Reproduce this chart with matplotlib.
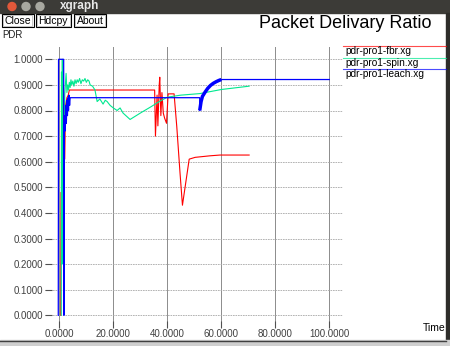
import matplotlib
matplotlib.use("Agg")
import matplotlib.pyplot as plt
from matplotlib.patches import Rectangle, Circle

plt.rcParams['font.family'] = ['Liberation Sans', 'DejaVu Sans']

# data
fbr_t = [0.5, 0.6, 1.2, 1.5, 2.0, 2.3, 2.8, 3.3, 3.7, 35.3, 35.6, 36.2, 36.5, 37.0, 37.2,
         37.6, 38.0, 38.5, 39.0, 39.7, 40.3, 42.5, 43.5, 44.7, 45.6, 48.1, 50.3, 55.8, 59.5, 70.3]
fbr_v = [0.0, 0.48, 0.46, 0.90, 0.61, 0.82, 0.85, 0.86, 0.88, 0.88, 0.70, 0.86, 0.74, 0.90, 0.93,
         0.78, 0.87, 0.79, 0.77, 0.75, 0.865, 0.865, 0.737, 0.556, 0.43, 0.61, 0.617, 0.623, 0.626, 0.626]

spin_t = [0.7, 0.8, 1.0, 1.1, 1.3, 1.6, 2.0, 2.5, 2.8, 3.1, 3.4, 3.7, 4.0, 4.3, 4.6, 5.0,
          5.4, 5.8, 6.2, 6.6, 7.0, 7.5, 8.0, 8.5, 9.0, 9.5, 10.0, 10.5, 11.0, 11.4,
          12.3, 13.2, 14.0, 15.0, 16.2, 17.0, 17.7, 18.8, 20.0, 21.4, 22.5, 23.6, 26.2,
          30.0, 34.0, 37.0, 40.0, 45.0, 52.0, 60.0, 70.3]
spin_v = [0.0, 0.95, 0.20, 1.0, 0.36, 0.18, 0.86, 0.945, 0.87, 0.90, 0.88, 0.91, 0.89, 0.92, 0.90, 0.915,
          0.895, 0.92, 0.905, 0.92, 0.91, 0.925, 0.905, 0.92, 0.915, 0.925, 0.91, 0.92, 0.915, 0.90,
          0.895, 0.88, 0.835, 0.845, 0.825, 0.84, 0.835, 0.82, 0.81, 0.80, 0.81, 0.79, 0.765,
          0.79, 0.815, 0.835, 0.852, 0.86, 0.866, 0.882, 0.895]

leach_t = [-0.4, -0.3, 1.6, 1.7, 1.8, 2.0, 2.2, 2.4, 2.6, 2.8, 3.0, 3.2, 3.4, 3.6, 3.8, 4.0,
           52.0, 52.0, 52.5, 53.0, 54.0, 55.0, 56.0, 57.0, 58.0, 59.0, 60.0, 100.0]
leach_v = [0.0, 1.0, 1.0, 0.0, 0.70, 0.78, 0.72, 0.82, 0.75, 0.84, 0.78, 0.85, 0.80, 0.86, 0.82, 0.85,
           0.85, 0.80, 0.835, 0.855, 0.872, 0.887, 0.898, 0.906, 0.912, 0.917, 0.921, 0.921]

names = ['pdr-pro1-fbr.xg', 'pdr-pro1-spin.xg', 'pdr-pro1-leach.xg']
colors = ['#ff0000', '#00e890', '#0000ff']
xticks = [0, 20, 40, 60, 80, 100]
yticks = [0.0, 0.1, 0.2, 0.3, 0.4, 0.5, 0.6, 0.7, 0.8, 0.9, 1.0]

fig = plt.figure(figsize=(4.5, 3.46), dpi=100)
fig.patch.set_facecolor('white')

# window chrome, drawn in pixel coords
win = fig.add_axes([0, 0, 1, 1])
win.set_xlim(0, 450)
win.set_ylim(346, 0)
win.axis('off')
win.add_patch(Rectangle((0, 0), 450, 12.5, color='#3c3b37'))
win.add_patch(Circle((12, 6.5), 4, color='#e2583a'))
win.add_patch(Circle((26, 6.5), 4, color='#a8a8a0'))
win.add_patch(Circle((40, 6.5), 4, color='#a8a8a0'))
win.text(60, 6.5, 'xgraph', color='#e8e8e8', fontsize=8.5, fontweight='bold', va='center')
for x0, x1, lab in [(1.7, 33.5, 'Close'), (35.5, 71, 'Hdcpy'), (74, 106, 'About')]:
    win.add_patch(Rectangle((x0, 13.5), x1 - x0, 13.5, fill=False, ec='black', lw=0.8))
    win.add_patch(Rectangle((x0 + 1.2, 14.7), x1 - x0 - 2.4, 11.1, fill=False, ec='#b0b0b0', lw=0.5))
    win.text((x0 + x1) / 2, 20.5, lab, fontsize=7.5, ha='center', va='center')
win.text(2.5, 35, 'PDR', fontsize=7, va='center', color='#202020')
win.text(345, 23, 'Packet Delivary Ratio', fontsize=13, ha='center', va='center')
win.text(423, 328, 'Time', fontsize=7.5, va='center')
for i, (nm, c) in enumerate(zip(names, colors)):
    y = 46 + 11.6 * i
    win.plot([343, 446], [y, y], color=c, lw=0.8, alpha=0.7)
    win.text(345, y + 5.2, nm, fontsize=7.3, va='center')
win.add_patch(Rectangle((446, 12.5), 4, 334, color='#2e2d2a'))
win.add_patch(Rectangle((0, 340), 450, 6, color='#cfcfcf'))
win.plot([0, 446], [340.5, 340.5], color='#404040', lw=1)

# plot area
ax = fig.add_axes([44.5 / 450, (346 - 328.1) / 346, 298.3 / 450, 281.6 / 346])
ax.set_zorder(2)
ax.patch.set_alpha(0)
ax.set_xlim(-5.5, 105)
ax.set_ylim(-0.05, 1.05)
for s in ax.spines.values():
    s.set_visible(False)
for x in xticks:
    ax.axvline(x, color='#8c8c8c', lw=0.7, zorder=0)
for y in yticks:
    ax.axhline(y, color='#a8a8a8', lw=0.6, ls=(0, (2, 1)), zorder=0)
ax.set_xticks(xticks)
ax.set_xticklabels(['%.4f' % x for x in xticks])
ax.set_yticks(yticks)
ax.set_yticklabels(['%.4f' % y for y in yticks])
ax.tick_params(axis='both', labelsize=7, length=5, direction='in', color='#505050',
               labelcolor='#404040', pad=1)

ax.plot(fbr_t, fbr_v, color=colors[0], lw=0.8)
ax.plot(spin_t, spin_v, color=colors[1], lw=0.8)
ax.plot(leach_t, leach_v, color=colors[2], lw=0.9)
# the rise after t=52 is a dense band in the original
ax.plot(leach_t[17:-1], leach_v[17:-1], color=colors[2], lw=2.5, solid_capstyle='butt')

fig.savefig('out.png', dpi=100)
